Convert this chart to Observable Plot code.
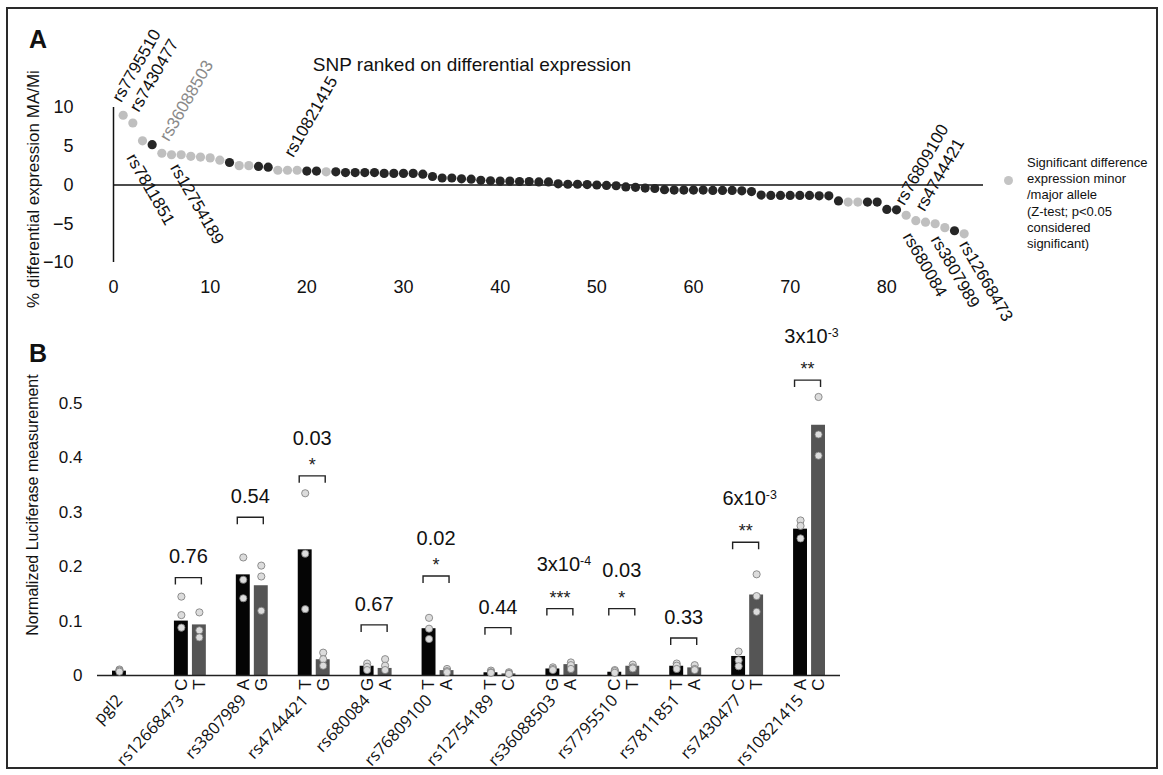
<!DOCTYPE html>
<html><head><meta charset="utf-8">
<script src="https://cdn.jsdelivr.net/npm/d3@7"></script>
<script src="https://cdn.jsdelivr.net/npm/@observablehq/plot@0.6"></script>
<style>
body{margin:0;background:#fff;font-family:"Liberation Sans",Arial,sans-serif;color:#111;}
#root{position:relative;width:1163px;height:775px;overflow:hidden;background:#fff;}
.frame{position:absolute;left:6px;top:7px;width:1152px;height:762px;border:2px solid #2a2a2a;box-sizing:border-box;}
.abs{position:absolute;white-space:nowrap;}
.svgwrap{position:absolute;left:0;}
</style></head><body>
<div id="root">
  <div class="frame"></div>
  <div id="chartA" class="svgwrap" style="top:0px"></div>
  <div id="chartB" class="svgwrap" style="top:300px"></div>
  <div class="abs" style="left:29px;top:27px;font-size:25px;font-weight:bold;line-height:25px;">A</div>
  <div class="abs" style="left:29px;top:341px;font-size:25px;font-weight:bold;line-height:25px;">B</div>
  <div class="abs" style="left:272px;top:54px;width:400px;text-align:center;font-size:19px;line-height:22px;">SNP ranked on differential expression</div>
  <div class="abs" style="left:34px;top:189px;font-size:17px;transform:translate(-50%,-50%) rotate(-90deg);">% differential expression MA/Mi</div>
  <div class="abs" style="left:33px;top:505px;font-size:16px;transform:translate(-50%,-50%) rotate(-90deg);">Normalized Luciferase measurement</div>
  <div class="abs" style="left:1004px;top:176px;width:9px;height:9px;border-radius:50%;background:#c4c4c4;"></div>
  <div class="abs" style="left:1027px;top:155px;font-size:13px;line-height:16.2px;white-space:pre;">Significant difference
expression minor
/major allele
(Z-test; p&lt;0.05
considered
significant)</div>
</div>
<script>
// ---------- Panel A data ----------
const diffExpr = [9.0,8.0,5.7,5.2,4.1,3.9,3.9,3.7,3.6,3.5,
  3.2,2.9,2.5,2.5,2.4,2.3,1.9,1.9,1.9,1.8,
  1.8,1.7,1.7,1.6,1.6,1.6,1.6,1.5,1.5,1.5,
  1.5,1.4,1.1,0.9,0.9,0.8,0.75,0.6,0.55,0.5,
  0.5,0.45,0.45,0.4,0.4,0.15,0.1,0.1,0.05,0.0,
  -0.05,-0.1,-0.25,-0.3,-0.4,-0.45,-0.6,-0.65,-0.65,-0.65,
  -0.65,-0.7,-0.7,-0.7,-0.75,-0.85,-1.3,-1.35,-1.35,-1.35,
  -1.35,-1.35,-1.4,-1.4,-2.05,-2.2,-2.2,-2.2,-2.2,-3.15,
  -3.2,-3.9,-4.6,-4.8,-5.0,-5.5,-5.9,-6.3];
const significant = [1,1,1,0,1,1,1,1,1,1,
  1,0,1,1,0,0,1,1,1,0,
  0,1,0,0,0,0,0,0,0,0,
  0,0,0,0,0,0,0,0,0,0,
  0,0,0,0,0,0,0,0,0,0,
  0,0,0,0,0,0,0,0,0,0,
  0,0,0,0,0,0,0,0,0,0,
  0,0,0,0,0,1,1,0,0,0,
  0,1,1,1,1,1,0,1];
const labelSnps  = ["rs7795510","rs7430477","rs36088503","rs10821415","rs76809100","rs4744421",
                    "rs7811851","rs12754189","rs680084","rs3807989","rs12668473"];
const labelRanks = [1,2,5,19,82,84, 3,7,83,86,88];
const labelSides = ["above","above","above","above","above","above","below","below","below","below","below"];
const labelGray  = [0,0,1,0,0,0,0,0,0,0,0];
const xTicksA = [0,10,20,30,40,50,60,70,80];
const yTicksA = [-10,-5,0,5,10];
// label placement (pixel nudges, layout only)
const labelNudge = [[-2,-12],[6,-10],[7,-11],[-4,-12],[-2,-9],[-1,-10],
                    [-6,11],[-1,7],[-3,10],[-4,6],[5,5]];

// ---------- Panel B data ----------
const groups  = ["pgl2","rs12668473","rs3807989","rs4744421","rs680084","rs76809100","rs12754189",
                 "rs36088503","rs7795510","rs7811851","rs7430477","rs10821415"];
const allele1 = ["","C","A","T","G","T","T","G","C","T","C","A"];
const allele2 = ["","T","G","G","A","A","C","A","T","A","T","C"];
const bar1 = [0.008,0.100,0.185,0.231,0.017,0.086,0.005,0.012,0.006,0.017,0.035,0.269];
const bar2 = [null,0.093,0.165,0.029,0.013,0.009,0.003,0.020,0.017,0.014,0.148,0.460];
const reps1 = [[0.011,0.009,0.007],[0.145,0.111,0.088],[0.217,0.176,0.142],[0.335,0.224,0.122],
  [0.022,0.016,0.010],[0.106,0.086,0.067],[0.009,0.006,0.005],[0.015,0.012,0.010],
  [0.010,0.008,0.005],[0.022,0.018,0.012],[0.044,0.028,0.017],[0.285,0.275,0.252]];
const reps2 = [[],[0.116,0.083,0.070],[0.202,0.182,0.119],[0.042,0.030,0.018],
  [0.030,0.018,0.010],[0.012,0.008,0.006],[0.006,0.004,0.003],[0.024,0.019,0.012],
  [0.020,0.015,0.013],[0.019,0.012,0.010],[0.186,0.146,0.117],[0.512,0.443,0.404]];
const bracketY = [null,0.180,0.291,0.367,0.093,0.183,0.088,0.123,0.123,0.069,0.245,0.543];
const pValues  = ["","0.76","0.54","0.03","0.67","0.02","0.44","3x10^-4","0.03","0.33","6x10^-3","3x10^-3"];
const stars    = ["","","","*","","*","","***","*","","**","**"];
const yTicksB = [0,0.1,0.2,0.3,0.4,0.5];

const FONT = "Liberation Sans, Arial, sans-serif";

// ---------- Panel A ----------
const dataA = diffExpr.map((v,i)=>({rank:i+1, v, sig:significant[i]}));
const labelsA = labelSnps.map((s,i)=>({snp:s, rank:labelRanks[i], v:diffExpr[labelRanks[i]-1], side:labelSides[i], gray:labelGray[i], nudge:labelNudge[i]}));

const labelMarks = labelsA.map(d => Plot.text([d], {
  x:"rank", y:"v", text:"snp",
  rotate: d.side==="above" ? -60 : 60,
  textAnchor:"start", lineAnchor: d.side==="above" ? "bottom" : "top",
  dx:d.nudge[0], dy:d.nudge[1], fontSize:17, fill: d.gray ? "#8a8a8a" : "#111"
}));

const plotA = Plot.plot({
  width:1163, height:300, marginLeft:113, marginRight:180, marginTop:107, marginBottom:38,
  x:{domain:[0,90]}, y:{domain:[-10,10]},
  style:{fontFamily:FONT, background:"transparent", overflow:"visible", color:"#111"},
  marks:[
    Plot.ruleY([0], {stroke:"#111", strokeWidth:1.5}),
    Plot.ruleX([0], {y1:()=>-10, y2:()=>10, stroke:"#111", strokeWidth:1.5}),
    Plot.axisX({ticks:xTicksA, tickSize:0, tickPadding:18, fontSize:18, label:null}),
    Plot.axisY({ticks:yTicksA, tickSize:0, tickPadding:40, fontSize:18, label:null}),
    Plot.dot(dataA.filter(d=>!d.sig), {x:"rank", y:"v", r:4.6, fill:"#262626"}),
    Plot.dot(dataA.filter(d=>d.sig), {x:"rank", y:"v", r:4.6, fill:"#bfbfbf"}),
    ...labelMarks
  ]
});
document.getElementById("chartA").append(plotA);

// ---------- Panel B ----------
const bars0 = groups.map((g,i)=>({g, v:bar1[i]}));
const bars1 = groups.map((g,i)=>({g, v:bar2[i]})).filter(d=>d.v!=null);
const dots0 = groups.flatMap((g,i)=>reps1[i].map(v=>({g,v})));
const dots1 = groups.flatMap((g,i)=>reps2[i].map(v=>({g,v})));
const brk = groups.map((g,i)=>({g, y:bracketY[i], p:pValues[i], s:stars[i]})).filter(d=>d.y!=null);
const al0 = groups.map((g,i)=>({g, a:allele1[i]})).filter(d=>d.a);
const al1 = groups.map((g,i)=>({g, a:allele2[i]})).filter(d=>d.a);

const bracketSymbol = {draw(ctx){ ctx.moveTo(-13,7); ctx.lineTo(-13,0); ctx.lineTo(13,0); ctx.lineTo(13,7); }};

const plotB = Plot.plot({
  width:1163, height:475, marginLeft:97, marginRight:323, marginTop:103, marginBottom:100,
  x:{domain:groups, padding:0, round:false, axis:null},
  y:{domain:[0,0.5]},
  style:{fontFamily:FONT, background:"transparent", overflow:"visible", color:"#111"},
  marks:[
    Plot.barY(bars0, {x:"g", y:"v", fill:"#050505", insetLeft:15, insetRight:33}),
    Plot.barY(bars1, {x:"g", y:"v", fill:"#555555", insetLeft:33, insetRight:15}),
    Plot.ruleY([0], {stroke:"#222", strokeWidth:1.6}),
    Plot.dot(dots0, {x:"g", y:"v", dx:-9, r:3.6, fill:"#dcdcdc", stroke:"#777", strokeWidth:0.8}),
    Plot.dot(dots1, {x:"g", y:"v", dx:9, r:3.6, fill:"#dcdcdc", stroke:"#777", strokeWidth:0.8}),
    Plot.dot(brk, {x:"g", y:"y", symbol:bracketSymbol, fill:"none", stroke:"#222", strokeWidth:1.4, dx:-2}),
    Plot.text(brk.filter(d=>d.s), {x:"g", y:"y", text:"s", dx:-2, dy:-10.5, fontSize:18, fill:"#222"}),
    Plot.text(brk.filter(d=>!d.s), {x:"g", y:"y", text:"p", dx:-2, dy:-20.5, fontSize:20, fill:"#111"}),
    Plot.text(brk.filter(d=>d.s && !d.p.includes("^")), {x:"g", y:"y", text:"p", dx:-2, dy:-37.5, fontSize:20, fill:"#111"}),
    Plot.text(brk.filter(d=>d.s && d.p.includes("^")), {x:"g", y:"y", text:"p", dx:2, dy:-44, fontSize:20, fill:"#111"}),
    Plot.axisY({ticks:yTicksB, tickSize:0, tickPadding:15, fontSize:17, tickFormat:d3.format("~g"), label:null}),
    Plot.text(groups, {x:d=>d, y:()=>0, text:d=>d, rotate:-47, textAnchor:"end", dx:-9, dy:22, fontSize:16.5, fontFamily:"Open Sans", fill:"#111"}),
    Plot.text(al0, {x:"g", y:()=>0, text:"a", rotate:-90, dx:-9, dy:9, fontSize:17, fill:"#111"}),
    Plot.text(al1, {x:"g", y:()=>0, text:"a", rotate:-90, dx:9, dy:9, fontSize:17, fill:"#111"})
  ]
});
// superscripts for exponent p-values
const NS = "http://www.w3.org/2000/svg";
plotB.querySelectorAll("text").forEach(t=>{
  const s = t.textContent;
  if (s.includes("^")) {
    const [a,b] = s.split("^");
    t.textContent = "";
    const t1 = document.createElementNS(NS,"tspan"); t1.textContent = a;
    const t2 = document.createElementNS(NS,"tspan"); t2.textContent = b;
    t2.setAttribute("dy","-0.45em"); t2.setAttribute("font-size","0.62em");
    t.append(t1,t2);
  }
});
document.getElementById("chartB").append(plotB);
</script>
</body></html>
